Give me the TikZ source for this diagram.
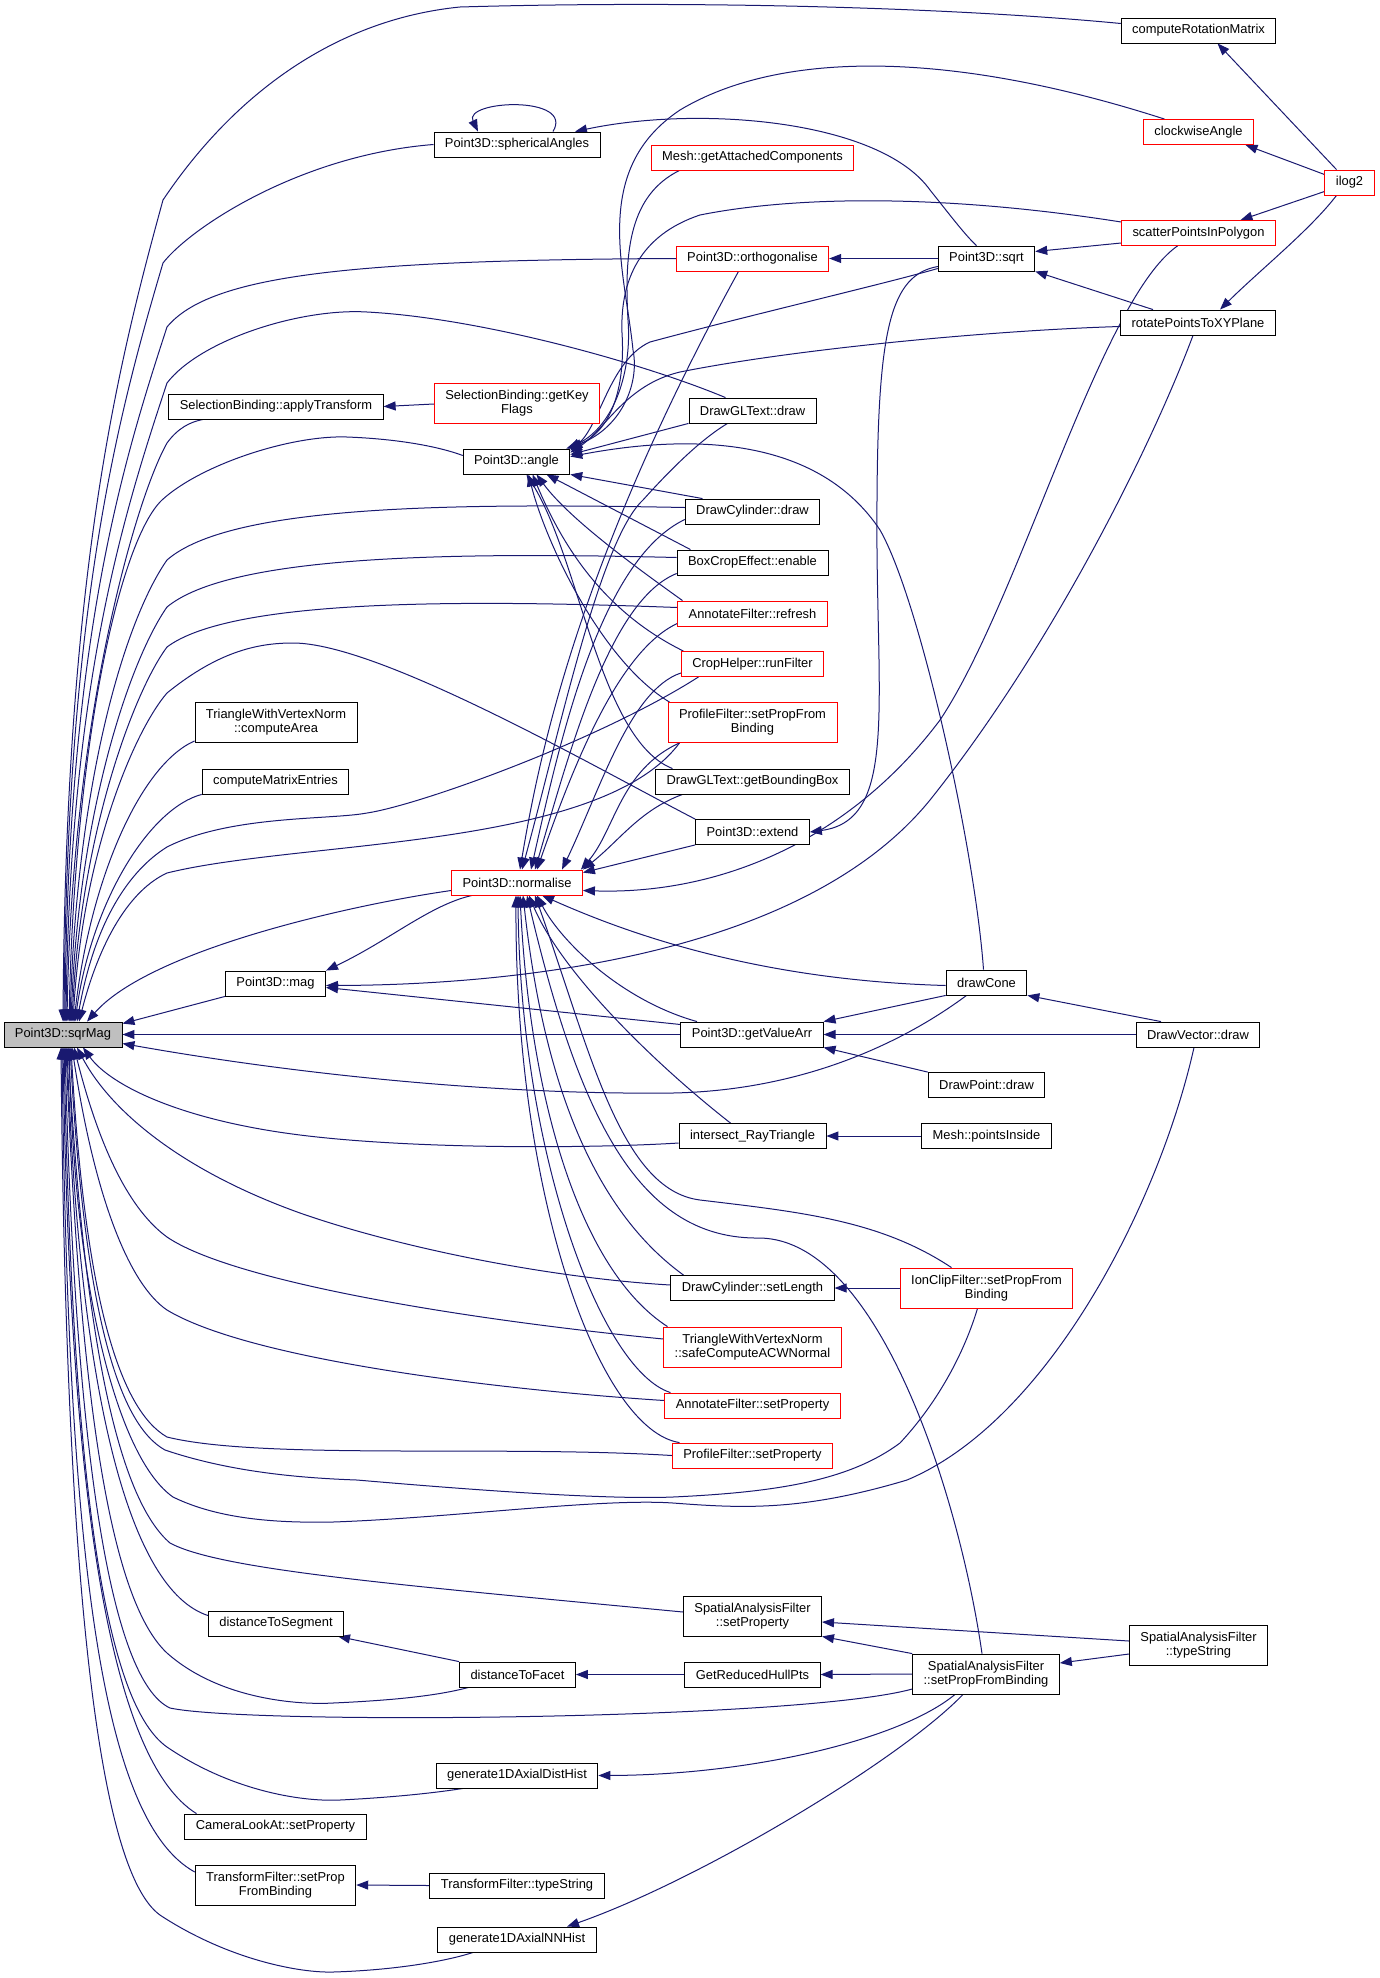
\documentclass[tikz,border=0pt]{standalone}
\usepackage{fontspec}
\setmainfont{Liberation Sans}
\usetikzlibrary{arrows.meta}
\definecolor{edgeblue}{HTML}{191970}
\definecolor{hlgray}{HTML}{BFBFBF}
\pgfdeclarelayer{bg}
\pgfsetlayers{bg,main}
\begin{document}
\begin{tikzpicture}[x=1pt, y=-1pt,
    fn/.style={rectangle, draw=black, line width=0.85pt, fill=white, inner xsep=11pt, inner ysep=2pt,
        minimum height=25pt, align=center, font=\fontsize{12.9}{14.3}\selectfont},
    fnred/.style={fn, draw=red},
    two/.style={minimum height=40pt},
    call/.style={<-, draw=edgeblue, line width=1pt},
    >={Triangle[length=12pt,width=9pt]}]
    \useasboundingbox (0,0) rectangle (1380,1978);
    % Nodes
    \node [fn, fill=hlgray] (sqm) at (63,1034.5) {Point3D::sqrMag};
    \node [fn] (crm) at (1198.5,30.5) {computeRotationMatrix};
    \node [fn] (sph) at (517,144.5) {Point3D::sphericalAngles};
    \node [fnred] (clk) at (1198.5,132) {clockwiseAngle};
    \node [fnred] (gac) at (752.5,157.5) {Mesh::getAttachedComponents};
    \node [fnred] (ilg) at (1349.5,182.5) {ilog2};
    \node [fnred] (sct) at (1198.5,233) {scatterPointsInPolygon};
    \node [fnred] (orth) at (752.5,258.5) {Point3D::orthogonalise};
    \node [fn] (sqt) at (986.5,258.5) {Point3D::sqrt};
    \node [fn] (rot) at (1198,322.5) {rotatePointsToXYPlane};
    \node [fn] (apt) at (276,406.5) {SelectionBinding::applyTransform};
    \node [fnred, two] (gkf) at (517,403) {SelectionBinding::getKey\\Flags};
    \node [fn] (gtd) at (752.5,410.5) {DrawGLText::draw};
    \node [fn] (ang) at (516.5,461.5) {Point3D::angle};
    \node [fn] (dcd) at (752.5,511.5) {DrawCylinder::draw};
    \node [fn] (bce) at (752.5,562.5) {BoxCropEffect::enable};
    \node [fnred] (afr) at (752.5,613.5) {AnnotateFilter::refresh};
    \node [fnred] (crh) at (752.5,664) {CropHelper::runFilter};
    \node [fnred, two] (pfb) at (752.5,722.5) {ProfileFilter::setPropFrom\\Binding};
    \node [fn, two] (car) at (276,722.5) {TriangleWithVertexNorm\\::computeArea};
    \node [fn] (cme) at (275.5,781.5) {computeMatrixEntries};
    \node [fn] (gbb) at (752.5,781.5) {DrawGLText::getBoundingBox};
    \node [fn] (ext) at (752.5,832) {Point3D::extend};
    \node [fnred] (nrm) at (517,882.5) {Point3D::normalise};
    \node [fn] (mag) at (275.5,983.5) {Point3D::mag};
    \node [fn] (dcn) at (986.5,982.5) {drawCone};
    \node [fn] (gva) at (752,1034.5) {Point3D::getValueArr};
    \node [fn] (dvd) at (1198,1034.5) {DrawVector::draw};
    \node [fn] (dpd) at (986.5,1085) {DrawPoint::draw};
    \node [fn] (irt) at (752.5,1136) {intersect\_RayTriangle};
    \node [fn] (mpi) at (986.5,1136) {Mesh::pointsInside};
    \node [fn] (dsl) at (752.5,1288) {DrawCylinder::setLength};
    \node [fnred, two] (icf) at (986.5,1288) {IonClipFilter::setPropFrom\\Binding};
    \node [fnred, two] (scn) at (752.5,1347) {TriangleWithVertexNorm\\::safeComputeACWNormal};
    \node [fnred] (asp) at (752.5,1405.5) {AnnotateFilter::setProperty};
    \node [fnred] (psp) at (752.5,1455.5) {ProfileFilter::setProperty};
    \node [fn, two] (sasp) at (752.5,1616) {SpatialAnalysisFilter\\::setProperty};
    \node [fn] (dts) at (276,1623.5) {distanceToSegment};
    \node [fn] (dtf) at (517.5,1674.5) {distanceToFacet};
    \node [fn] (grh) at (752.5,1674.5) {GetReducedHullPts};
    \node [fn, two] (spb) at (986,1674) {SpatialAnalysisFilter\\::setPropFromBinding};
    \node [fn, two] (sts) at (1198.5,1645) {SpatialAnalysisFilter\\::typeString};
    \node [fn] (gdh) at (517,1775.5) {generate1DAxialDistHist};
    \node [fn] (cla) at (275.5,1826.5) {CameraLookAt::setProperty};
    \node [fn, two] (tfb) at (275.5,1885) {TransformFilter::setProp\\FromBinding};
    \node [fn] (tft) at (517,1885.5) {TransformFilter::typeString};
    \node [fn] (gnh) at (517,1939.5) {generate1DAxialNNHist};
    \begin{pgfonlayer}{bg}
    % Calls into sqrMag from above
    \draw [call] (sqm.north) .. controls (66,570) and (118,364) .. (163,200) .. controls (230,100) and (330,20) .. (460,7) .. controls (700,0) and (960,8) .. ([yshift=7pt]crm.west);
    \draw [call] ([xshift=1pt]sqm.north) .. controls (67,605) and (118,415) .. (163,263) .. controls (190,228) and (300,155) .. (sph.west);
    \draw [call] ([xshift=2pt]sqm.north) .. controls (68,640) and (122,465) .. (167,327) .. controls (210,275) and (350,260) .. (orth.west);
    \draw [call] ([xshift=3pt]sqm.north) .. controls (70,680) and (125,510) .. (167,383) .. controls (200,340) and (300,308) .. (367,312) .. controls (480,318) and (640,362) .. ([xshift=-27pt]gtd.north);
    \draw [call] ([xshift=4pt]sqm.north) .. controls (72,720) and (135,500) .. (167,443) .. controls (178,428) and (190,422) .. ([xshift=-73pt]apt.south);
    \draw [call] ([xshift=6pt]sqm.north) .. controls (75,740) and (120,540) .. (162,500) .. controls (200,465) and (290,435) .. (347,437) .. controls (400,439) and (440,447) .. ([yshift=6pt]ang.west);
    \draw [call] ([xshift=7pt]sqm.north) .. controls (77,780) and (125,620) .. (167,560) .. controls (230,505) and (450,503) .. ([yshift=4pt]dcd.west);
    \draw [call] ([xshift=8pt]sqm.north) .. controls (79,810) and (130,660) .. (167,607) .. controls (230,555) and (450,552) .. ([yshift=5pt]bce.west);
    \draw [call] ([xshift=9pt]sqm.north) .. controls (81,830) and (135,690) .. (167,647) .. controls (230,600) and (450,599) .. ([yshift=6pt]afr.west);
    \draw [call] ([xshift=10pt]sqm.north) .. controls (83,850) and (135,730) .. (167,693) .. controls (220,650) and (260,643) .. (293,643) .. controls (380,643) and (600,770) .. (ext.north west);
    \draw [call] ([xshift=11pt]sqm.north) .. controls (90,880) and (140,765) .. ([yshift=2pt]car.south west);
    \draw [call] ([xshift=12pt]sqm.north) .. controls (92,900) and (150,808) .. (cme.south west);
    \draw [call] ([xshift=14pt]sqm.north) .. controls (95,920) and (130,870) .. (167,847) .. controls (230,815) and (330,820) .. (367,813) .. controls (420,805) and (600,740) .. ([xshift=-54pt]crh.south);
    \draw [call] ([xshift=16pt]sqm.north) .. controls (100,940) and (130,890) .. (167,873) .. controls (300,840) and (600,850) .. ([xshift=-73pt]pfb.south);
    \draw [call] ([xshift=24pt]sqm.north) .. controls (150,950) and (350,905) .. ([yshift=-8pt]nrm.west);
    % Calls into sqrMag from the side
    \draw [call] ([yshift=-2pt]sqm.north east) -- (mag.south west);
    \draw [call] (sqm.east) -- (gva.west);
    \draw [call] ([yshift=-9pt]sqm.east) .. controls (300,1075) and (500,1095) .. (673,1093) .. controls (820,1090) and (920,1030) .. ([xshift=-20pt]dcn.south);
    % Calls into sqrMag from below
    \draw [call] ([xshift=20pt]sqm.south) .. controls (110,1085) and (180,1120) .. (300,1135) .. controls (420,1150) and (600,1148) .. ([yshift=-7pt]irt.west);
    \draw [call] ([xshift=14pt]sqm.south) .. controls (110,1110) and (180,1170) .. (300,1213) .. controls (400,1248) and (550,1278) .. ([yshift=3pt]dsl.west);
    \draw [call] ([xshift=11pt]sqm.south) .. controls (100,1150) and (130,1210) .. (167,1237) .. controls (230,1280) and (450,1318) .. ([yshift=8pt]scn.west);
    \draw [call] ([xshift=9pt]sqm.south) .. controls (95,1200) and (130,1285) .. (167,1310) .. controls (250,1360) and (500,1390) .. ([yshift=5pt]asp.west);
    \draw [call] ([xshift=8pt]sqm.south) .. controls (85,1300) and (120,1410) .. (167,1437) .. controls (260,1460) and (500,1445) .. (psp.west);
    \draw [call] ([xshift=7pt]sqm.south) .. controls (85,1320) and (120,1425) .. (165,1450) .. controls (230,1472) and (300,1478) .. (357,1480) .. controls (450,1488) and (600,1500) .. (673,1497) .. controls (780,1492) and (850,1480) .. (900,1443) .. controls (940,1400) and (965,1350) .. ([xshift=-9pt]icf.south);
    \draw [call] ([xshift=6pt]sqm.south) .. controls (75,1300) and (120,1460) .. (173,1497) .. controls (220,1520) and (280,1523) .. (333,1522) .. controls (450,1518) and (600,1498) .. (673,1503) .. controls (740,1508) and (800,1512) .. (907,1480) .. controls (1050,1420) and (1160,1200) .. ([xshift=-4pt]dvd.south);
    \draw [call] ([xshift=5pt]sqm.south) .. controls (85,1350) and (120,1500) .. (170,1543) .. controls (220,1570) and (400,1585) .. ([yshift=4pt]sasp.west);
    \draw [call] ([xshift=4pt]sqm.south) .. controls (80,1400) and (130,1590) .. ([yshift=8pt]dts.west);
    \draw [call] ([xshift=3pt]sqm.south) .. controls (80,1400) and (110,1600) .. (167,1653) .. controls (220,1700) and (300,1705) .. (333,1703) .. controls (400,1700) and (440,1695) .. ([xshift=-49pt]dtf.south);
    \draw [call] ([xshift=2pt]sqm.south) .. controls (75,1450) and (110,1680) .. (170,1708) .. controls (250,1725) and (800,1720) .. ([yshift=-15pt]spb.west);
    \draw [call] ([xshift=1pt]sqm.south) .. controls (72,1450) and (100,1700) .. (167,1747) .. controls (230,1790) and (300,1802) .. (340,1800) .. controls (400,1797) and (440,1792) .. ([xshift=-54pt]gdh.south);
    \draw [call] (sqm.south) .. controls (70,1500) and (110,1760) .. ([xshift=-79pt]cla.north);
    \draw [call] ([xshift=-1pt]sqm.south) .. controls (68,1550) and (100,1820) .. ([yshift=13pt]tfb.west);
    \draw [call] ([xshift=-2pt]sqm.south) .. controls (66,1600) and (100,1880) .. (163,1917) .. controls (230,1960) and (300,1973) .. (333,1972) .. controls (400,1970) and (450,1960) .. ([xshift=-44pt]gnh.south);
    % Top part
    \draw [call] ([xshift=-39pt]sph.north) .. controls (463,100) and (575,95) .. ([xshift=36pt]sph.north);
    \draw [call] ([xshift=58pt]sph.north) .. controls (700,105) and (880,120) .. (930,190) .. controls (950,215) and (965,235) .. ([xshift=-10pt]sqt.north);
    \draw [call] ([xshift=19pt]crm.south) -- ([xshift=-13pt]ilg.north);
    \draw [call] ([xshift=47pt]clk.south) -- ([yshift=8pt]ilg.west);
    \draw [call] ([xshift=42pt]sct.north) -- ([yshift=-9pt]ilg.west);
    \draw [call] ([xshift=22pt]rot.north) .. controls (1260,270) and (1310,230) .. ([xshift=-13pt]ilg.south);
    \draw [call] ([yshift=7pt]sqt.east) -- ([yshift=-10pt]sct.west);
    \draw [call] (sqt.south east) -- ([xshift=-45pt]rot.north);
    \draw [call] (orth.east) -- (sqt.west);
    \draw [call] (ext.east) .. controls (900,820) and (875,700) .. (877,500) .. controls (878,330) and (890,275) .. ([yshift=-8pt]sqt.west);
    \draw [call] (apt.east) -- ([yshift=-1pt]gkf.west);
    % Calls into angle
    \draw [call] ([xshift=-4pt]ang.north east) .. controls (620,430) and (640,385) .. (633,350) .. controls (625,270) and (590,170) .. (680,110) .. controls (780,50) and (950,50) .. ([xshift=-34pt]clk.north);
    \draw [call] ([xshift=-2pt]ang.north east) .. controls (615,425) and (632,370) .. (628,320) .. controls (624,250) and (630,195) .. ([xshift=-73pt]gac.south);
    \draw [call] (ang.north east) .. controls (615,428) and (625,380) .. (622,333) .. controls (620,280) and (640,235) .. (700,215) .. controls (800,195) and (950,195) .. ([yshift=11pt]sct.west);
    \draw [call] ([yshift=-2pt]ang.north east) .. controls (600,425) and (610,360) .. (650,342) .. controls (750,315) and (880,285) .. ([yshift=-10pt]sqt.west);
    \draw [call] ([yshift=-4pt]ang.north east) .. controls (605,430) and (625,385) .. (680,372) .. controls (800,348) and (1000,330) .. ([yshift=-4pt]rot.west);
    \draw [call] ([yshift=-6pt]ang.north east) -- (gtd.south west);
    \draw [call] ([yshift=-8pt]ang.north east) .. controls (700,432) and (820,440) .. (880,530) .. controls (920,600) and (975,850) .. ([xshift=-3pt]dcn.north);
    \draw [call] (ang.south east) -- ([xshift=-50pt]dcd.north);
    \draw [call] ([xshift=30pt]ang.south) -- ([xshift=-62pt]bce.north);
    \draw [call] ([xshift=20pt]ang.south) .. controls (570,520) and (640,570) .. ([xshift=-70pt]afr.north);
    \draw [call] ([xshift=16pt]ang.south) .. controls (560,540) and (600,610) .. ([xshift=-69pt]crh.north);
    \draw [call] ([xshift=12pt]ang.south) .. controls (545,540) and (600,660) .. ([xshift=-83pt]pfb.north);
    \draw [call] ([xshift=10pt]ang.south) .. controls (580,560) and (600,740) .. ([xshift=-80pt]gbb.north);
    % Calls into normalise
    \draw [call] ([xshift=3pt]nrm.north) .. controls (540,750) and (580,560) .. ([xshift=-14pt]orth.south);
    \draw [call] ([xshift=5pt]nrm.north) .. controls (560,730) and (600,540) .. (643,500) .. controls (670,470) and (700,440) .. ([xshift=-25pt]gtd.south);
    \draw [call] ([xshift=14pt]nrm.north) .. controls (560,740) and (600,560) .. ([yshift=-8pt]dcd.west);
    \draw [call] ([xshift=18pt]nrm.north) .. controls (570,750) and (610,600) .. ([yshift=-11pt]bce.west);
    \draw [call] ([xshift=20pt]nrm.north) .. controls (575,760) and (620,650) .. ([yshift=-10pt]afr.west);
    \draw [call] ([xshift=45pt]nrm.north) .. controls (600,790) and (630,690) .. ([yshift=-9pt]crh.west);
    \draw [call] ([xshift=-2pt]nrm.north east) .. controls (615,830) and (620,770) .. ([xshift=-73pt]pfb.south);
    \draw [call] (nrm.north east) .. controls (620,840) and (640,810) .. ([xshift=-70pt]gbb.south);
    \draw [call] ([yshift=-3pt]nrm.north east) -- (ext.south west);
    \draw [call] ([yshift=-8pt]nrm.east) .. controls (720,895) and (850,840) .. (940,720) .. controls (1020,600) and (1100,300) .. ([xshift=-21pt]sct.south);
    \draw [call] ([xshift=20pt]nrm.south) .. controls (560,940) and (620,1000) .. ([xshift=-55pt]gva.north);
    \draw [call] ([xshift=12pt]nrm.south) .. controls (560,970) and (650,1060) .. ([xshift=-22pt]irt.north);
    \draw [call] ([xshift=25pt]nrm.south) .. controls (620,930) and (750,980) .. ([yshift=-3pt]dcn.west);
    \draw [call] ([xshift=6pt]nrm.south) .. controls (540,1050) and (580,1200) .. ([xshift=-69pt]dsl.north);
    \draw [call] ([xshift=3pt]nrm.south) .. controls (530,1100) and (580,1270) .. ([xshift=-85pt]scn.north);
    \draw [call] ([xshift=1pt]nrm.south) .. controls (520,1150) and (600,1370) .. ([xshift=-82pt]asp.north);
    \draw [call] ([xshift=-1pt]nrm.south) .. controls (515,1200) and (600,1430) .. ([xshift=-73pt]psp.north);
    \draw [call] ([xshift=18pt]nrm.south) .. controls (590,1050) and (620,1190) .. (700,1200) .. controls (800,1212) and (880,1220) .. ([xshift=-35pt]icf.north);
    \draw [call] ([xshift=10pt]nrm.south) .. controls (580,1120) and (640,1240) .. (760,1238) .. controls (880,1240) and (960,1500) .. ([xshift=-4pt]spb.north);
    % Calls into mag
    \draw [call] (mag.north east) .. controls (390,940) and (430,905) .. ([xshift=-45pt]nrm.south);
    \draw [call] ([yshift=-2pt]mag.east) .. controls (500,985) and (800,960) .. (930,800) .. controls (1050,650) and (1150,450) .. ([xshift=-5pt]rot.south);
    \draw [call] ([yshift=-4pt]mag.east) -- ([yshift=10pt]gva.west);
    % Middle part
    \draw [call] (gva.north east) -- (dcn.south west);
    \draw [call] (gva.east) -- (dvd.west);
    \draw [call] (gva.south east) -- (dpd.north west);
    \draw [call] (dcn.south east) -- ([xshift=-37pt]dvd.north);
    \draw [call] (irt.east) -- (mpi.west);
    \draw [call] (dsl.east) -- (icf.west);
    % Bottom part
    \draw [call] ([yshift=-6pt]sasp.east) -- ([yshift=4pt]sts.west);
    \draw [call] (sasp.south east) -- (spb.north west);
    \draw [call] (dtf.east) -- (grh.west);
    \draw [call] (grh.east) -- (spb.west);
    \draw [call] ([xshift=62pt]dts.south) -- (dtf.north west);
    \draw [call] ([yshift=11pt]spb.east) -- ([yshift=-9pt]sts.west);
    \draw [call] (gdh.east) .. controls (750,1775) and (900,1740) .. ([xshift=-31pt]spb.south);
    \draw [call] ([xshift=50pt]gnh.north) .. controls (700,1880) and (900,1760) .. ([xshift=-23pt]spb.south);
    \draw [call] (tfb.east) -- (tft.west);
    \end{pgfonlayer}
\end{tikzpicture}
\end{document}
